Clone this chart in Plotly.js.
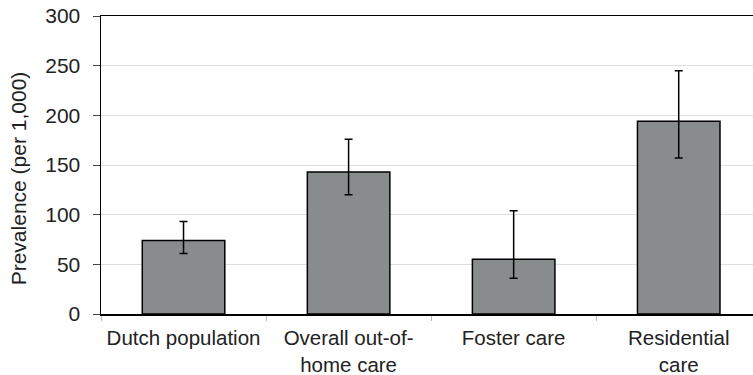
<!DOCTYPE html>
<html>
<head>
<meta charset="utf-8">
<script src="https://cdn.plot.ly/plotly-3.0.1.min.js"></script>
<style>html,body{margin:0;padding:0;background:#fff;}#chart{width:753px;height:375px;}</style>
</head>
<body>
<div id="chart"></div>
<script>
const categories = ["Dutch population", "Overall out-of-<br>home care", "Foster care", "Residential<br>care"];
const prevalence = [74, 143, 55, 194];
const errorUpper = [93, 176, 104, 245];
const errorLower = [61, 120, 36, 157];
const yTicks = [0, 50, 100, 150, 200, 250, 300];
const yTitle = 'Prevalence (per 1,000)';

const plus = prevalence.map((v, i) => errorUpper[i] - v);
const minus = prevalence.map((v, i) => v - errorLower[i]);

const trace = {
  type: 'bar',
  x: categories,
  y: prevalence,
  width: 0.5,
  marker: {color: '#898c8c', line: {color: '#000', width: 1.5}},
  error_y: {type: 'data', symmetric: false, array: plus, arrayminus: minus,
            color: '#000', thickness: 1.5, width: 4},
  hoverinfo: 'none'
};

const layout = {
  width: 753, height: 375,
  margin: {l: 101, r: 0, t: 16, b: 61, pad: 0},
  paper_bgcolor: '#fff', plot_bgcolor: '#fff',
  font: {family: 'Liberation Sans, Arial, sans-serif', size: 21, color: '#222'},
  showlegend: false,
  xaxis: {
    type: 'category',
    range: [-0.5, 3.45],
    showline: true, linecolor: '#000', linewidth: 1.5, mirror: true,
    ticks: 'outside', tickson: 'boundaries', ticklen: 5, tickcolor: '#bbb', tickwidth: 1,
    tickangle: 0,
    ticklabelstandoff: 5,
    showgrid: false, zeroline: false,
    tickfont: {size: 20.5, color: '#222'}
  },
  yaxis: {
    range: [0, 300],
    tickvals: yTicks,
    showline: true, linecolor: '#000', linewidth: 1.5,
    ticks: 'outside', ticklen: 7, tickcolor: '#444', tickwidth: 1,
    ticklabelstandoff: 8,
    showgrid: true, gridcolor: '#dedede', gridwidth: 1,
    zeroline: false,
    tickfont: {size: 21, color: '#222'}
  },
  annotations: [{
    text: yTitle, textangle: -90, showarrow: false,
    xref: 'paper', yref: 'paper', x: -0.127, y: 0.456,
    xanchor: 'center', yanchor: 'middle',
    font: {size: 21, color: '#222'}
  }]
};

Plotly.newPlot('chart', [trace], layout, {staticPlot: true, displayModeBar: false});
</script>
</body>
</html>
